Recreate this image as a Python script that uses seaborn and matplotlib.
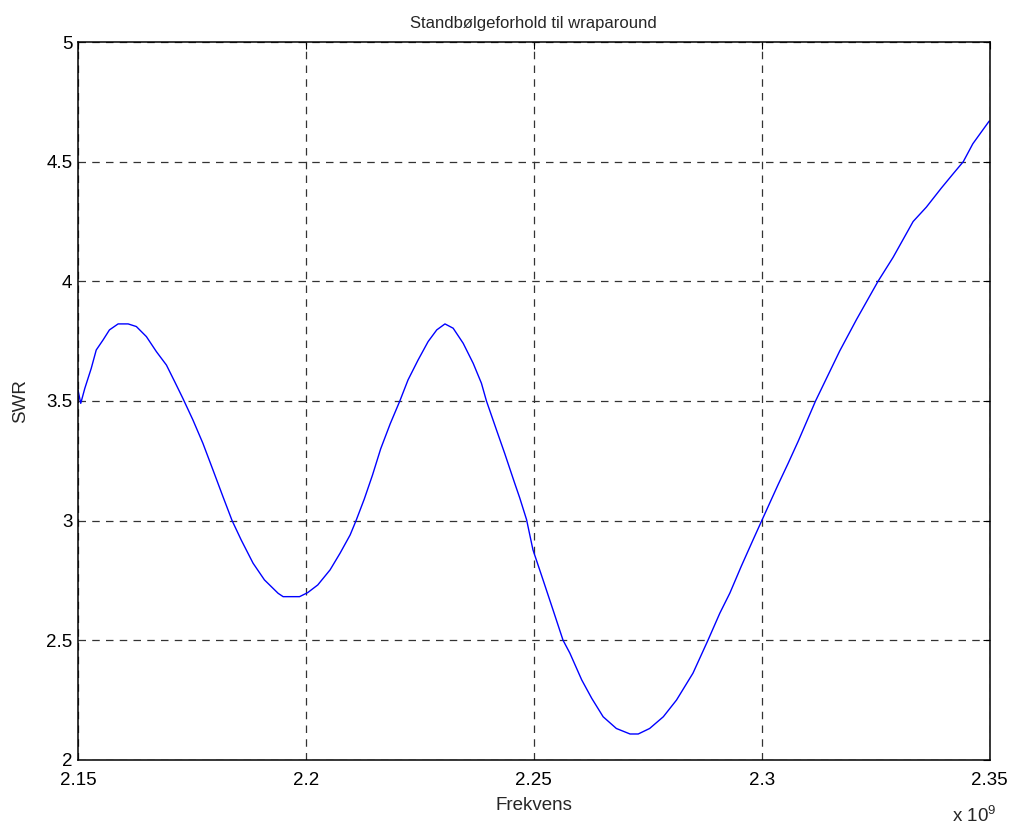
import numpy as np
import pandas as pd
import matplotlib
matplotlib.use('Agg')
import matplotlib.pyplot as plt
import seaborn as sns

# Values (frequency in units of 1e9 Hz)
freq = [2.1500, 2.1506, 2.1515, 2.1529, 2.1540, 2.1555, 2.1569, 2.1588, 2.1610,
        2.1628, 2.1650, 2.1672, 2.1694, 2.1712, 2.1730, 2.1752, 2.1774, 2.1796,
        2.1818, 2.1838, 2.1858, 2.1884, 2.1909, 2.1939, 2.1950, 2.1986, 2.2004,
        2.2026, 2.2053, 2.2075, 2.2097, 2.2110, 2.2128, 2.2146, 2.2164, 2.2185,
        2.2206, 2.2224, 2.2246, 2.2268, 2.2287, 2.2305, 2.2323, 2.2345, 2.2367,
        2.2385, 2.2396, 2.2418, 2.2436, 2.2458, 2.2469, 2.2484, 2.2498, 2.2520,
        2.2542, 2.2564, 2.2579, 2.2605, 2.2627, 2.2652, 2.2681, 2.2711, 2.2729,
        2.2754, 2.2784, 2.2813, 2.2849, 2.2882, 2.2908, 2.2930, 2.2955, 2.2981,
        2.3000, 2.3036, 2.3058, 2.3080, 2.3118, 2.3171, 2.3208, 2.3255, 2.3288,
        2.3332, 2.3361, 2.3394, 2.3420, 2.3442, 2.3463, 2.3499]
swr = [3.546, 3.490, 3.553, 3.636, 3.713, 3.755, 3.797, 3.822, 3.822,
       3.811, 3.769, 3.706, 3.650, 3.581, 3.511, 3.421, 3.323, 3.212,
       3.100, 3.000, 2.919, 2.822, 2.752, 2.696, 2.682, 2.682, 2.699,
       2.731, 2.794, 2.864, 2.940, 3.000, 3.090, 3.190, 3.300, 3.405,
       3.500, 3.588, 3.671, 3.748, 3.797, 3.822, 3.804, 3.741, 3.657,
       3.574, 3.500, 3.379, 3.281, 3.156, 3.095, 3.004, 2.878, 2.753,
       2.627, 2.500, 2.446, 2.334, 2.257, 2.180, 2.131, 2.108, 2.108,
       2.131, 2.180, 2.250, 2.362, 2.500, 2.613, 2.697, 2.809, 2.920,
       3.000, 3.151, 3.240, 3.332, 3.500, 3.709, 3.841, 4.000, 4.100,
       4.250, 4.310, 4.390, 4.450, 4.500, 4.575, 4.670]

x_ticks = [2.15, 2.2, 2.25, 2.3, 2.35]
x_tick_labels = ['2.15', '2.2', '2.25', '2.3', '2.35']
y_ticks = [2, 2.5, 3, 3.5, 4, 4.5, 5]
y_tick_labels = ['2', '2.5', '3', '3.5', '4', '4.5', '5']

df = pd.DataFrame({'Frekvens': freq, 'SWR': swr})

sns.set_style('white')
plt.rcParams['font.family'] = ['Liberation Sans', 'DejaVu Sans']
plt.rcParams['mathtext.fontset'] = 'custom'
plt.rcParams['mathtext.rm'] = 'Liberation Sans'

fig = plt.figure(figsize=(10.13, 8.25), dpi=100)
ax = fig.add_axes([0.077, 0.079, 0.900, 0.870])

sns.lineplot(data=df, x='Frekvens', y='SWR', color='#0000ff', lw=1.0, ax=ax,
             estimator=None, sort=False)

ax.set_xlim(2.15, 2.35)
ax.set_ylim(2, 5)
ax.set_xticks(x_ticks)
ax.set_xticklabels(x_tick_labels)
ax.set_yticks(y_ticks)
ax.set_yticklabels(y_tick_labels)
ax.tick_params(direction='in', length=5, width=0.8, labelsize=13.5, colors='black',
               top=True, right=True)
ax.tick_params(axis='x', pad=8.5)
ax.tick_params(axis='y', pad=4)
ax.grid(True, linestyle=(0, (6, 5)), color='#333333', lw=0.9)
for s in ax.spines.values():
    s.set_visible(True)
    s.set_color('black')
    s.set_linewidth(1.1)

ax.set_title('Standbølgeforhold til wraparound', fontsize=12, pad=10)
ax.set_xlabel('Frekvens', fontsize=13.5, labelpad=6)
ax.set_ylabel('SWR', fontsize=13.5, labelpad=12)
fig.text(996 / 1013, 3 / 825, r'x 10$^{9}$', fontsize=13.5, ha='right', va='baseline')

fig.savefig('out.png', dpi=100, facecolor='white')
